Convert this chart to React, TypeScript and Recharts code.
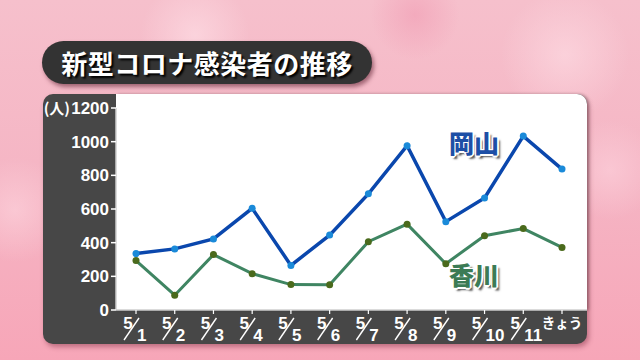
import { LineChart, Line, XAxis, YAxis } from "recharts";

const days = ["5/1", "5/2", "5/3", "5/4", "5/5", "5/6", "5/7", "5/8", "5/9", "5/10", "5/11", "きょう"];
const okayama = [335, 363, 422, 604, 265, 445, 690, 976, 525, 666, 1033, 837];
const kagawa = [294, 88, 329, 216, 151, 150, 406, 510, 275, 441, 484, 372];
const yTicks = [0, 200, 400, 600, 800, 1000, 1200];

const chartData = days.map((d, i) => ({ day: d, okayama: okayama[i], kagawa: kagawa[i] }));

const JP = '"Noto Sans CJK JP", sans-serif';
const NUM = '"Liberation Sans", Arial, sans-serif';

// eslint-disable-next-line @typescript-eslint/no-explicit-any
function ValueTick({ x, y, payload }: any) {
  const v = payload.value as number;
  return (
    <g>
      {v === 1200 && (
        <text x={x - 39} y={y + 6} textAnchor="end" fill="#fff" fontSize={15} fontWeight={700} fontFamily={JP}>
          (人)
        </text>
      )}
      <text x={x} y={y + 6} textAnchor="end" fill="#fff" fontSize={17} fontWeight={700} fontFamily={NUM}>
        {v}
      </text>
    </g>
  );
}

// eslint-disable-next-line @typescript-eslint/no-explicit-any
function DayTick({ x, y, payload }: any) {
  const label = payload.value as string;
  if (!label.includes("/")) {
    return (
      <text x={x} y={y + 14} textAnchor="middle" fill="#fff" fontSize={13.5} fontWeight={700} fontFamily={JP}>
        {label}
      </text>
    );
  }
  const [m, d] = label.split("/");
  return (
    <g fontFamily={NUM} fontWeight={700} fill="#fff">
      <text x={x - 8} y={y + 15} textAnchor="middle" fontSize={17}>{m}</text>
      <line x1={x - 12} y1={y + 26} x2={x + 3} y2={y + 4} stroke="#fff" strokeWidth={1.4} />
      <text x={x + 1} y={y + 27} textAnchor="start" fontSize={17}>{d}</text>
    </g>
  );
}

const labelShadow =
  "1px 1px 0 #fff, -1px -1px 0 #fff, 1px -1px 0 #fff, -1px 1px 0 #fff, 0 2px 0 #fff, 2px 0 0 #fff, 3px 3px 2px #555";

export default function App() {
  return (
    <div
      style={{
        position: "absolute",
        left: 0,
        top: 0,
        width: 640,
        height: 360,
        overflow: "hidden",
        background: "linear-gradient(180deg, #f6c0cc 0%, #f5b5c4 50%, #f7a6b8 100%)",
      }}
    >
      {/* soft bokeh */}
      <div style={{ position: "absolute", left: 140, top: -20, width: 110, height: 110, borderRadius: "50%", background: "radial-gradient(circle, rgba(255,225,232,0.6), rgba(255,225,232,0) 70%)" }} />
      <div style={{ position: "absolute", left: 370, top: -30, width: 90, height: 90, borderRadius: "50%", background: "radial-gradient(circle, rgba(240,150,175,0.5), rgba(240,150,175,0) 70%)" }} />
      <div style={{ position: "absolute", left: 500, top: -10, width: 130, height: 130, borderRadius: "50%", background: "radial-gradient(circle, rgba(255,225,232,0.55), rgba(255,225,232,0) 70%)" }} />
      <div style={{ position: "absolute", left: 560, top: 120, width: 100, height: 100, borderRadius: "50%", background: "radial-gradient(circle, rgba(255,215,225,0.5), rgba(255,215,225,0) 70%)" }} />
      <div style={{ position: "absolute", left: -30, top: 150, width: 90, height: 120, borderRadius: "50%", background: "radial-gradient(circle, rgba(255,220,228,0.5), rgba(255,220,228,0) 70%)" }} />

      {/* title pill */}
      <div
        style={{
          position: "absolute",
          left: 42,
          top: 41,
          width: 330,
          height: 43,
          borderRadius: 22,
          background: "#333",
          boxShadow: "2px 3px 4px rgba(90,30,45,0.55)",
          display: "flex",
          alignItems: "center",
          justifyContent: "center",
          color: "#fff",
          fontFamily: JP,
          fontWeight: 700,
          fontSize: 26,
          letterSpacing: 0.5,
          textShadow: "2px 2px 2px #000",
        }}
      >
        新型コロナ感染者の推移
      </div>

      {/* dark axis panel + white plot */}
      <div
        style={{
          position: "absolute",
          left: 43,
          top: 94,
          width: 544,
          height: 250,
          borderRadius: 10,
          background: "#474747",
          boxShadow: "2px 3px 5px rgba(120,40,60,0.45)",
        }}
      />
      <div
        style={{
          position: "absolute",
          left: 116,
          top: 94,
          width: 471,
          height: 216,
          borderTopRightRadius: 10,
          background: "#fff",
          boxShadow: "2px 0 3px rgba(0,0,0,0.25)",
        }}
      />

      <div style={{ position: "absolute", left: 0, top: 0 }}>
        <LineChart width={640} height={360} data={chartData} margin={{ top: 108, right: 53, bottom: 10, left: 46 }}>
          <XAxis
            dataKey="day"
            interval={0}
            padding={{ left: 20, right: 25 }}
            height={40}
            tickSize={4}
            tickMargin={0}
            axisLine={{ stroke: "#cfcfcf", strokeWidth: 1.5 }}
            tickLine={{ stroke: "#fff", strokeWidth: 1.2 }}
            tick={<DayTick />}
          />
          <YAxis
            domain={[0, 1200]}
            ticks={yTicks}
            width={70}
            tickSize={5}
            tickMargin={2}
            axisLine={{ stroke: "#cfcfcf", strokeWidth: 1.5 }}
            tickLine={{ stroke: "#fff", strokeWidth: 1.5 }}
            tick={<ValueTick />}
          />
          <Line
            dataKey="kagawa"
            stroke="#3f8562"
            strokeWidth={3}
            dot={{ r: 3.5, fill: "#4a6a1c", stroke: "none" }}
            isAnimationActive={false}
          />
          <Line
            dataKey="okayama"
            stroke="#0a47ad"
            strokeWidth={3.5}
            dot={{ r: 3.5, fill: "#1a8ad9", stroke: "none" }}
            isAnimationActive={false}
          />
        </LineChart>
      </div>

      <div style={{ position: "absolute", left: 449, top: 130, fontFamily: JP, fontWeight: 900, fontSize: 25, color: "#1d4fa6", textShadow: labelShadow, lineHeight: 1 }}>
        岡山
      </div>
      <div style={{ position: "absolute", left: 449, top: 262, fontFamily: JP, fontWeight: 900, fontSize: 25, color: "#3c7b55", textShadow: labelShadow, lineHeight: 1 }}>
        香川
      </div>
    </div>
  );
}
